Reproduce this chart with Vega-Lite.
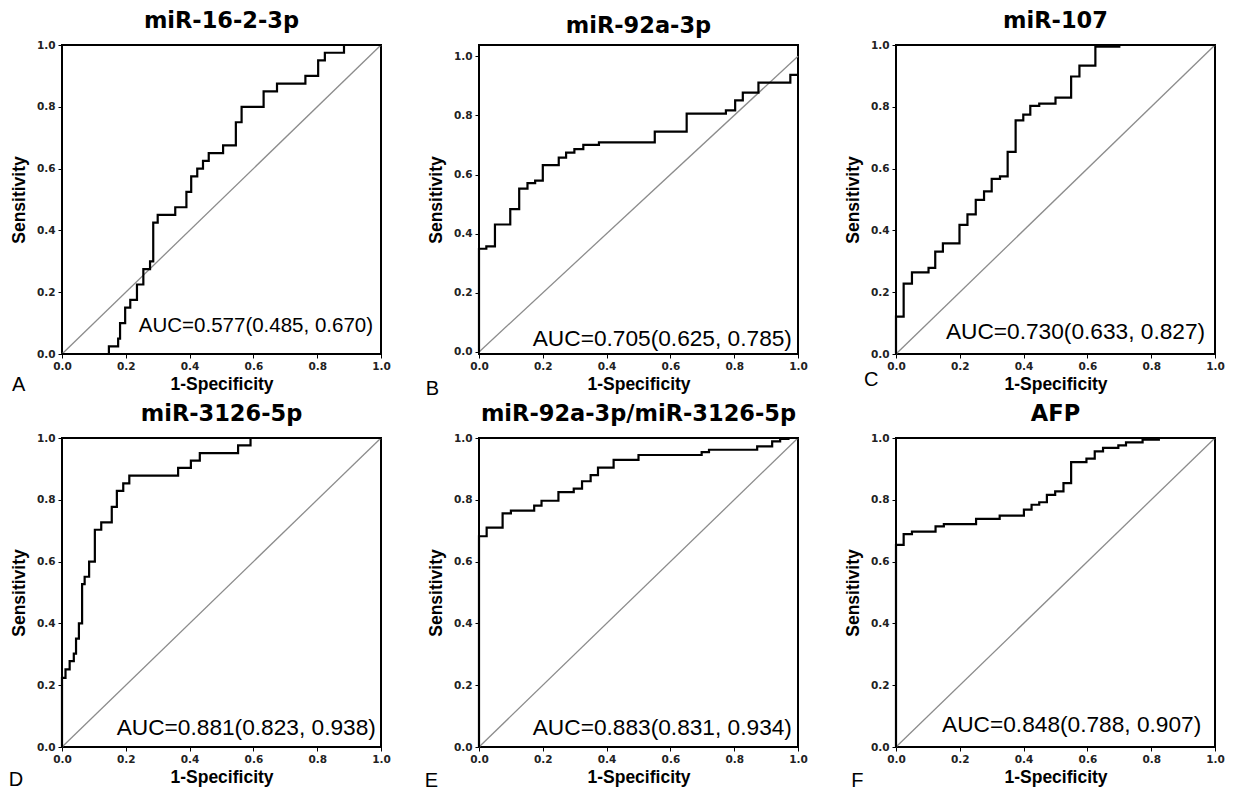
{
  "$schema": "https://vega.github.io/schema/vega-lite/v6.json",
  "padding": {"left": 7, "top": 8, "right": 5, "bottom": 3},
  "background": "white",
  "bounds": "flush",
  "columns": 3,
  "spacing": {"row": 84, "column": 98},
  "config": {
    "view": {"stroke": "black", "strokeWidth": 2},
    "title": {"font": "DejaVu Sans", "fontSize": 22.5, "fontWeight": "bold", "color": "black", "anchor": "middle", "baseline": "bottom", "offset": 8},
    "axis": {"domain": false, "grid": false, "tickColor": "black", "tickSize": 4, "tickWidth": 1, "labelFont": "DejaVu Sans", "labelFontWeight": "bold", "labelFontSize": 10.5, "labelColor": "#222222", "labelPadding": 3, "labelFlush": false, "labelOverlap": false, "titleFont": "Liberation Sans", "titleFontSize": 17.5, "titleFontWeight": "bold", "titleColor": "black"},
    "axisX": {"titlePadding": 4},
    "axisY": {"titlePadding": 8},
    "text": {"font": "Liberation Sans", "color": "black"}
  },
  "datasets": {
    "diag": [{"fpr": 0, "tpr": 0}, {"fpr": 1, "tpr": 1}],
    "A": [{"fpr":0,"tpr":0},{"fpr":0.147,"tpr":0.025},{"fpr":0.176,"tpr":0.05},{"fpr":0.182,"tpr":0.1},{"fpr":0.198,"tpr":0.15},{"fpr":0.214,"tpr":0.175},{"fpr":0.235,"tpr":0.225},{"fpr":0.255,"tpr":0.275},{"fpr":0.276,"tpr":0.3},{"fpr":0.286,"tpr":0.425},{"fpr":0.3,"tpr":0.45},{"fpr":0.355,"tpr":0.475},{"fpr":0.39,"tpr":0.525},{"fpr":0.405,"tpr":0.575},{"fpr":0.424,"tpr":0.6},{"fpr":0.442,"tpr":0.625},{"fpr":0.46,"tpr":0.65},{"fpr":0.505,"tpr":0.675},{"fpr":0.545,"tpr":0.75},{"fpr":0.563,"tpr":0.8},{"fpr":0.632,"tpr":0.85},{"fpr":0.674,"tpr":0.875},{"fpr":0.763,"tpr":0.9},{"fpr":0.803,"tpr":0.95},{"fpr":0.824,"tpr":0.975},{"fpr":0.884,"tpr":1.0},{"fpr":1.0,"tpr":1.0}],
    "B": [{"fpr":0,"tpr":0},{"fpr":0,"tpr":0.349},{"fpr":0.023,"tpr":0.357},{"fpr":0.05,"tpr":0.431},{"fpr":0.098,"tpr":0.483},{"fpr":0.126,"tpr":0.552},{"fpr":0.152,"tpr":0.571},{"fpr":0.176,"tpr":0.579},{"fpr":0.2,"tpr":0.632},{"fpr":0.25,"tpr":0.657},{"fpr":0.273,"tpr":0.674},{"fpr":0.299,"tpr":0.686},{"fpr":0.327,"tpr":0.7},{"fpr":0.376,"tpr":0.709},{"fpr":0.551,"tpr":0.745},{"fpr":0.651,"tpr":0.806},{"fpr":0.774,"tpr":0.817},{"fpr":0.803,"tpr":0.851},{"fpr":0.827,"tpr":0.877},{"fpr":0.876,"tpr":0.911},{"fpr":0.976,"tpr":0.937},{"fpr":1.0,"tpr":0.937}],
    "C": [{"fpr":0,"tpr":0},{"fpr":0,"tpr":0.121},{"fpr":0.024,"tpr":0.228},{"fpr":0.05,"tpr":0.264},{"fpr":0.102,"tpr":0.279},{"fpr":0.123,"tpr":0.331},{"fpr":0.147,"tpr":0.358},{"fpr":0.199,"tpr":0.418},{"fpr":0.224,"tpr":0.452},{"fpr":0.25,"tpr":0.499},{"fpr":0.276,"tpr":0.526},{"fpr":0.3,"tpr":0.567},{"fpr":0.326,"tpr":0.575},{"fpr":0.35,"tpr":0.654},{"fpr":0.375,"tpr":0.756},{"fpr":0.399,"tpr":0.775},{"fpr":0.421,"tpr":0.803},{"fpr":0.449,"tpr":0.81},{"fpr":0.5,"tpr":0.83},{"fpr":0.549,"tpr":0.898},{"fpr":0.575,"tpr":0.933},{"fpr":0.625,"tpr":0.995},{"fpr":0.7,"tpr":1.0},{"fpr":1.0,"tpr":1.0}],
    "D": [{"fpr":0,"tpr":0},{"fpr":0,"tpr":0.224},{"fpr":0.011,"tpr":0.251},{"fpr":0.024,"tpr":0.278},{"fpr":0.037,"tpr":0.302},{"fpr":0.044,"tpr":0.351},{"fpr":0.053,"tpr":0.4},{"fpr":0.063,"tpr":0.527},{"fpr":0.071,"tpr":0.551},{"fpr":0.085,"tpr":0.6},{"fpr":0.103,"tpr":0.703},{"fpr":0.123,"tpr":0.727},{"fpr":0.156,"tpr":0.777},{"fpr":0.172,"tpr":0.829},{"fpr":0.192,"tpr":0.853},{"fpr":0.211,"tpr":0.878},{"fpr":0.364,"tpr":0.903},{"fpr":0.404,"tpr":0.927},{"fpr":0.432,"tpr":0.951},{"fpr":0.552,"tpr":0.976},{"fpr":0.591,"tpr":1.0},{"fpr":1.0,"tpr":1.0}],
    "E": [{"fpr":0,"tpr":0},{"fpr":0,"tpr":0.682},{"fpr":0.024,"tpr":0.71},{"fpr":0.074,"tpr":0.756},{"fpr":0.1,"tpr":0.765},{"fpr":0.173,"tpr":0.781},{"fpr":0.196,"tpr":0.797},{"fpr":0.249,"tpr":0.825},{"fpr":0.297,"tpr":0.836},{"fpr":0.323,"tpr":0.86},{"fpr":0.35,"tpr":0.88},{"fpr":0.373,"tpr":0.904},{"fpr":0.422,"tpr":0.929},{"fpr":0.5,"tpr":0.945},{"fpr":0.698,"tpr":0.954},{"fpr":0.721,"tpr":0.962},{"fpr":0.872,"tpr":0.973},{"fpr":0.919,"tpr":0.989},{"fpr":0.944,"tpr":0.997},{"fpr":0.97,"tpr":1.0},{"fpr":1.0,"tpr":1.0}],
    "F": [{"fpr":0,"tpr":0},{"fpr":0,"tpr":0.654},{"fpr":0.024,"tpr":0.689},{"fpr":0.05,"tpr":0.697},{"fpr":0.124,"tpr":0.714},{"fpr":0.15,"tpr":0.721},{"fpr":0.251,"tpr":0.738},{"fpr":0.325,"tpr":0.749},{"fpr":0.401,"tpr":0.768},{"fpr":0.425,"tpr":0.784},{"fpr":0.449,"tpr":0.792},{"fpr":0.473,"tpr":0.816},{"fpr":0.499,"tpr":0.827},{"fpr":0.525,"tpr":0.854},{"fpr":0.549,"tpr":0.922},{"fpr":0.597,"tpr":0.933},{"fpr":0.623,"tpr":0.957},{"fpr":0.649,"tpr":0.968},{"fpr":0.697,"tpr":0.976},{"fpr":0.721,"tpr":0.986},{"fpr":0.773,"tpr":0.995},{"fpr":0.824,"tpr":1.0},{"fpr":1.0,"tpr":1.0}]
  },
  "concat": [
    {
      "title": "miR-16-2-3p", "width": 319, "height": 309,
      "encoding": {
        "x": {"type": "quantitative", "scale": {"domain": [0, 1], "nice": false, "zero": false}, "axis": {"title": "1-Specificity", "values": [0, 0.2, 0.4, 0.6, 0.8, 1], "format": ".1f"}},
        "y": {"type": "quantitative", "scale": {"domain": [0, 1], "nice": false, "zero": false}, "axis": {"title": "Sensitivity", "values": [0, 0.2, 0.4, 0.6, 0.8, 1], "format": ".1f"}}
      },
      "layer": [
        {"data": {"name": "diag"}, "mark": {"type": "line", "color": "#8c8c8c", "strokeWidth": 1.3}, "encoding": {"x": {"field": "fpr"}, "y": {"field": "tpr"}}},
        {"data": {"name": "A"}, "mark": {"type": "line", "interpolate": "step-after", "color": "black", "strokeWidth": 2.2}, "encoding": {"x": {"field": "fpr"}, "y": {"field": "tpr"}, "order": {"value": null}}},
        {"data": {"values": [{"label": "AUC=0.577(0.485, 0.670)"}]}, "mark": {"type": "text", "align": "right", "baseline": "alphabetic", "fontSize": 20.5}, "encoding": {"x": {"datum": 0.975}, "y": {"datum": 0.07}, "text": {"field": "label"}}},
        {"data": {"values": [{"label": "A"}]}, "mark": {"type": "text", "align": "left", "baseline": "alphabetic", "fontSize": 20}, "encoding": {"x": {"datum": -0.157}, "y": {"datum": -0.12}, "text": {"field": "label"}}}
      ]
    },
    {
      "title": "miR-92a-3p", "width": 319, "height": 309,
      "encoding": {
        "x": {"type": "quantitative", "scale": {"domain": [0, 1], "nice": false, "zero": false}, "axis": {"title": "1-Specificity", "values": [0, 0.2, 0.4, 0.6, 0.8, 1], "format": ".1f"}},
        "y": {"type": "quantitative", "scale": {"domain": [-0.007, 1.038], "nice": false, "zero": false}, "axis": {"title": "Sensitivity", "values": [0, 0.2, 0.4, 0.6, 0.8, 1], "format": ".1f"}}
      },
      "layer": [
        {"data": {"name": "diag"}, "mark": {"type": "line", "color": "#8c8c8c", "strokeWidth": 1.3}, "encoding": {"x": {"field": "fpr"}, "y": {"field": "tpr"}}},
        {"data": {"name": "B"}, "mark": {"type": "line", "interpolate": "step-after", "color": "black", "strokeWidth": 2.2}, "encoding": {"x": {"field": "fpr"}, "y": {"field": "tpr"}, "order": {"value": null}}},
        {"data": {"values": [{"label": "AUC=0.705(0.625, 0.785)"}]}, "mark": {"type": "text", "align": "right", "baseline": "alphabetic", "fontSize": 22.7}, "encoding": {"x": {"datum": 0.981}, "y": {"datum": 0.02}, "text": {"field": "label"}}},
        {"data": {"values": [{"label": "B"}]}, "mark": {"type": "text", "align": "left", "baseline": "alphabetic", "fontSize": 20}, "encoding": {"x": {"datum": -0.167}, "y": {"datum": -0.145}, "text": {"field": "label"}}}
      ]
    },
    {
      "title": "miR-107", "width": 319, "height": 309,
      "encoding": {
        "x": {"type": "quantitative", "scale": {"domain": [0, 1], "nice": false, "zero": false}, "axis": {"title": "1-Specificity", "values": [0, 0.2, 0.4, 0.6, 0.8, 1], "format": ".1f"}},
        "y": {"type": "quantitative", "scale": {"domain": [0, 1], "nice": false, "zero": false}, "axis": {"title": "Sensitivity", "values": [0, 0.2, 0.4, 0.6, 0.8, 1], "format": ".1f"}}
      },
      "layer": [
        {"data": {"name": "diag"}, "mark": {"type": "line", "color": "#8c8c8c", "strokeWidth": 1.3}, "encoding": {"x": {"field": "fpr"}, "y": {"field": "tpr"}}},
        {"data": {"name": "C"}, "mark": {"type": "line", "interpolate": "step-after", "color": "black", "strokeWidth": 2.2}, "encoding": {"x": {"field": "fpr"}, "y": {"field": "tpr"}, "order": {"value": null}}},
        {"data": {"values": [{"label": "AUC=0.730(0.633, 0.827)"}]}, "mark": {"type": "text", "align": "right", "baseline": "alphabetic", "fontSize": 22.7}, "encoding": {"x": {"datum": 0.969}, "y": {"datum": 0.05}, "text": {"field": "label"}}},
        {"data": {"values": [{"label": "C"}]}, "mark": {"type": "text", "align": "left", "baseline": "alphabetic", "fontSize": 20}, "encoding": {"x": {"datum": -0.1}, "y": {"datum": -0.104}, "text": {"field": "label"}}}
      ]
    },
    {
      "title": "miR-3126-5p", "width": 319, "height": 309,
      "encoding": {
        "x": {"type": "quantitative", "scale": {"domain": [0, 1], "nice": false, "zero": false}, "axis": {"title": "1-Specificity", "values": [0, 0.2, 0.4, 0.6, 0.8, 1], "format": ".1f"}},
        "y": {"type": "quantitative", "scale": {"domain": [0, 1], "nice": false, "zero": false}, "axis": {"title": "Sensitivity", "values": [0, 0.2, 0.4, 0.6, 0.8, 1], "format": ".1f"}}
      },
      "layer": [
        {"data": {"name": "diag"}, "mark": {"type": "line", "color": "#8c8c8c", "strokeWidth": 1.3}, "encoding": {"x": {"field": "fpr"}, "y": {"field": "tpr"}}},
        {"data": {"name": "D"}, "mark": {"type": "line", "interpolate": "step-after", "color": "black", "strokeWidth": 2.2}, "encoding": {"x": {"field": "fpr"}, "y": {"field": "tpr"}, "order": {"value": null}}},
        {"data": {"values": [{"label": "AUC=0.881(0.823, 0.938)"}]}, "mark": {"type": "text", "align": "right", "baseline": "alphabetic", "fontSize": 22.7}, "encoding": {"x": {"datum": 0.984}, "y": {"datum": 0.038}, "text": {"field": "label"}}},
        {"data": {"values": [{"label": "D"}]}, "mark": {"type": "text", "align": "left", "baseline": "alphabetic", "fontSize": 20}, "encoding": {"x": {"datum": -0.167}, "y": {"datum": -0.125}, "text": {"field": "label"}}}
      ]
    },
    {
      "title": "miR-92a-3p/miR-3126-5p", "width": 319, "height": 309,
      "encoding": {
        "x": {"type": "quantitative", "scale": {"domain": [0, 1], "nice": false, "zero": false}, "axis": {"title": "1-Specificity", "values": [0, 0.2, 0.4, 0.6, 0.8, 1], "format": ".1f"}},
        "y": {"type": "quantitative", "scale": {"domain": [0, 1], "nice": false, "zero": false}, "axis": {"title": "Sensitivity", "values": [0, 0.2, 0.4, 0.6, 0.8, 1], "format": ".1f"}}
      },
      "layer": [
        {"data": {"name": "diag"}, "mark": {"type": "line", "color": "#8c8c8c", "strokeWidth": 1.3}, "encoding": {"x": {"field": "fpr"}, "y": {"field": "tpr"}}},
        {"data": {"name": "E"}, "mark": {"type": "line", "interpolate": "step-after", "color": "black", "strokeWidth": 2.2}, "encoding": {"x": {"field": "fpr"}, "y": {"field": "tpr"}, "order": {"value": null}}},
        {"data": {"values": [{"label": "AUC=0.883(0.831, 0.934)"}]}, "mark": {"type": "text", "align": "right", "baseline": "alphabetic", "fontSize": 22.7}, "encoding": {"x": {"datum": 0.981}, "y": {"datum": 0.04}, "text": {"field": "label"}}},
        {"data": {"values": [{"label": "E"}]}, "mark": {"type": "text", "align": "left", "baseline": "alphabetic", "fontSize": 20}, "encoding": {"x": {"datum": -0.17}, "y": {"datum": -0.128}, "text": {"field": "label"}}}
      ]
    },
    {
      "title": "AFP", "width": 319, "height": 309,
      "encoding": {
        "x": {"type": "quantitative", "scale": {"domain": [0, 1], "nice": false, "zero": false}, "axis": {"title": "1-Specificity", "values": [0, 0.2, 0.4, 0.6, 0.8, 1], "format": ".1f"}},
        "y": {"type": "quantitative", "scale": {"domain": [0, 1], "nice": false, "zero": false}, "axis": {"title": "Sensitivity", "values": [0, 0.2, 0.4, 0.6, 0.8, 1], "format": ".1f"}}
      },
      "layer": [
        {"data": {"name": "diag"}, "mark": {"type": "line", "color": "#8c8c8c", "strokeWidth": 1.3}, "encoding": {"x": {"field": "fpr"}, "y": {"field": "tpr"}}},
        {"data": {"name": "F"}, "mark": {"type": "line", "interpolate": "step-after", "color": "black", "strokeWidth": 2.2}, "encoding": {"x": {"field": "fpr"}, "y": {"field": "tpr"}, "order": {"value": null}}},
        {"data": {"values": [{"label": "AUC=0.848(0.788, 0.907)"}]}, "mark": {"type": "text", "align": "right", "baseline": "alphabetic", "fontSize": 22.7}, "encoding": {"x": {"datum": 0.957}, "y": {"datum": 0.048}, "text": {"field": "label"}}},
        {"data": {"values": [{"label": "F"}]}, "mark": {"type": "text", "align": "left", "baseline": "alphabetic", "fontSize": 20}, "encoding": {"x": {"datum": -0.14}, "y": {"datum": -0.13}, "text": {"field": "label"}}}
      ]
    }
  ]
}
